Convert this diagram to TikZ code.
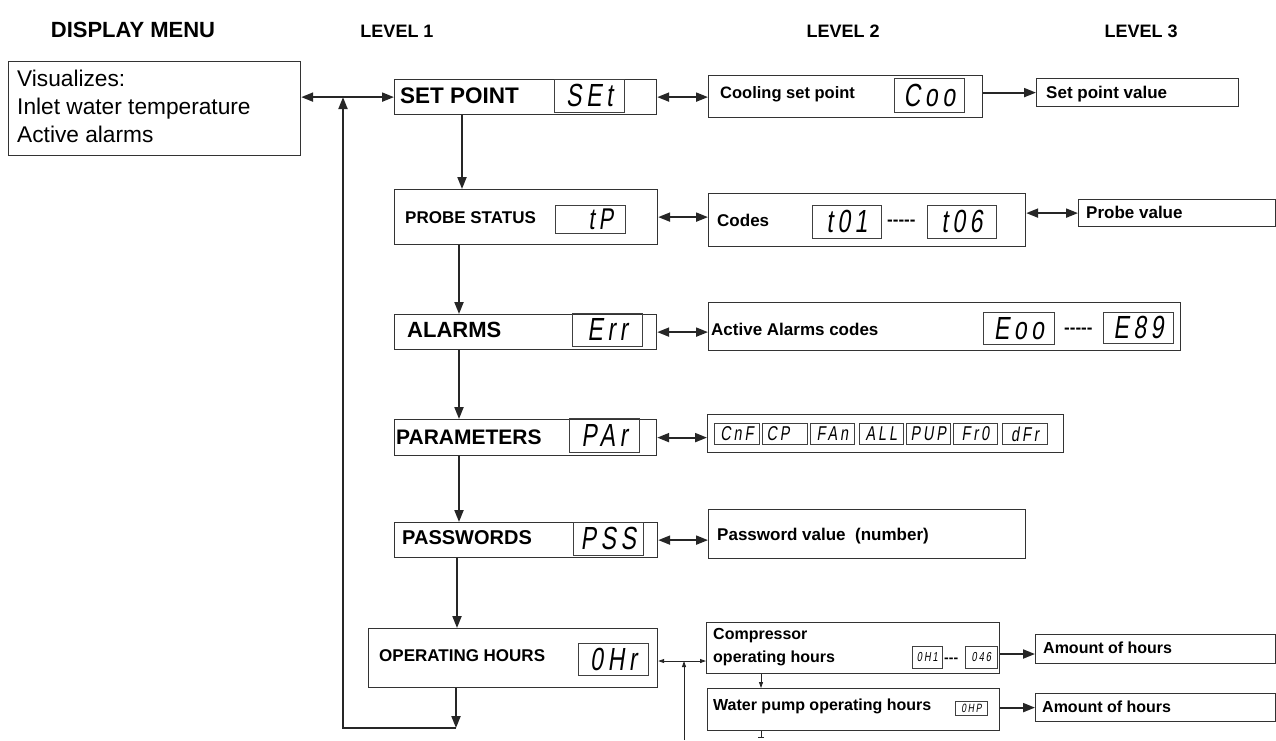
\documentclass[tikz,border=0pt]{standalone}
\usepackage{fontspec}
\setmainfont{Liberation Sans}
\newfontfamily\segfont[FakeSlant=0.2,LetterSpace=20]{Liberation Sans}
\usetikzlibrary{arrows.meta}
\newcommand{\sgtxt}[2]{\scalebox{0.72}[1]{\segfont\fontsize{#1}{#1}\selectfont #2}}
\newcommand{\fs}[1]{\fontsize{#1}{#1}\selectfont}
\newcommand{\hy}{-{}}
\begin{document}
\begin{tikzpicture}[x=1pt,y=-1pt,
  box/.style={draw=black!80, line width=1.2pt, inner sep=0pt, anchor=north west},
  dsp/.style={draw=black!75, line width=0.8pt, inner sep=0pt, anchor=north west},
  lbl/.style={anchor=base west, inner sep=0pt, font=\bfseries\fs{#1}},
  hdr/.style={anchor=base, inner sep=0pt, font=\bfseries\fs{18}},
  main/.style={line width=2pt, draw=black!85, >={Triangle[length=12pt,width=9pt]}},
  thinarr/.style={line width=0.8pt, draw=black!85, >={Triangle[length=6pt,width=4pt]}}
]
\fill[white] (0,0) rectangle (1276,740);
\useasboundingbox (0,0) rectangle (1276,740);

% headers
\node[hdr, font=\bfseries\fs{22}] (h0) at (133,37) {DISPLAY MENU};
\node[hdr] (h1) at (397,37) {LEVEL 1};
\node[hdr] (h2) at (843,37) {LEVEL 2};
\node[hdr] (h3) at (1141,37) {LEVEL 3};

% display menu box
\node[box, minimum width=292pt, minimum height=94pt] (disp) at (8,61) {};
\node[anchor=base west, inner sep=0pt, font=\fs{22.7}] (v1) at (17,86) {Visualizes:};
\node[anchor=base west, inner sep=0pt, font=\fs{22.7}] (v2) at (17,114) {Inlet water temperature};
\node[anchor=base west, inner sep=0pt, font=\fs{22.7}] (v3) at (17,142) {Active alarms};

% level 1 boxes
\node[box, minimum width=262pt, minimum height=35pt] (sp) at (394,79) {};
\node[box, minimum width=263pt, minimum height=55pt] (ps) at (394,189) {};
\node[box, minimum width=262pt, minimum height=35pt] (al) at (394,314) {};
\node[box, minimum width=262pt, minimum height=36pt] (pa) at (394,419) {};
\node[box, minimum width=263pt, minimum height=35pt] (pw) at (394,522) {};
\node[box, minimum width=289pt, minimum height=59pt] (oh) at (368,628) {};

\node[lbl=22.5] (tsp) at (400,103) {SET POINT};
\node[lbl=17] (tps) at (405,223) {PROBE STATUS};
\node[lbl=22] (tal) at (407,337) {ALARMS};
\node[lbl=21] (tpa) at (396,444) {PARAMETERS};
\node[lbl=20] (tpw) at (402,544) {PASSWORDS};
\node[lbl=17] (toh) at (379,661) {OPERATING HOURS};

\node[dsp, minimum width=70pt, minimum height=33pt] (dSEt) at (554,79) {\sgtxt{32}{SEt}};
\node[dsp, minimum width=70pt, minimum height=28pt] (dtP) at (555,205) {\sgtxt{30}{\ \ tP}};
\node[dsp, minimum width=70pt, minimum height=33pt] (dErr) at (572,313) {\sgtxt{32}{Err}};
\node[dsp, minimum width=70pt, minimum height=34pt] (dPAr) at (569,418) {\sgtxt{32}{PAr}};
\node[dsp, minimum width=70pt, minimum height=33pt] (dPSS) at (573,522) {\sgtxt{32}{PSS}};
\node[dsp, minimum width=70pt, minimum height=32pt] (dOHr) at (578,643) {\sgtxt{32}{0Hr}};

% level 2 boxes
\node[box, minimum width=274pt, minimum height=42pt] (cs) at (708,75) {};
\node[box, minimum width=317pt, minimum height=53pt] (co) at (708,193) {};
\node[box, minimum width=472pt, minimum height=48pt] (aa) at (708,302) {};
\node[box, minimum width=356pt, minimum height=38pt] (par) at (707,414) {};
\node[box, minimum width=317pt, minimum height=49pt] (pwv) at (708,509) {};
\node[box, minimum width=293pt, minimum height=51pt] (cp) at (706,622) {};
\node[box, minimum width=292pt, minimum height=42pt] (wp) at (707,688) {};

\node[lbl=16.5] (tcs) at (720,98) {Cooling set point};
\node[lbl=17] (tco) at (717,226) {Codes};
\node[lbl=17] (taa) at (711,335) {Active Alarms codes};
\node[lbl=17] (tpwv) at (717,540) {Password value\ \ (number)};
\node[lbl=16] (tcp1) at (713,639) {Compressor};
\node[lbl=16] (tcp2) at (713,662) {operating hours};
\node[lbl=16] (twp) at (713,710) {Water pump operating hours};

\node[dsp, minimum width=70pt, minimum height=34pt] (dCoo) at (894,78) {\sgtxt{32}{Coo}};
\node[dsp, minimum width=69pt, minimum height=33pt] (dt01) at (812,205) {\sgtxt{32}{t01}};
\node[lbl=17] (dash1) at (887,225) {\hy\hy\hy\hy\hy};
\node[dsp, minimum width=69pt, minimum height=33pt] (dt06) at (927,205) {\sgtxt{32}{t06}};
\node[dsp, minimum width=71pt, minimum height=32pt] (dE00) at (983,312) {\sgtxt{32}{Eoo}};
\node[lbl=17] (dash2) at (1064,333) {\hy\hy\hy\hy\hy};
\node[dsp, minimum width=70pt, minimum height=31pt] (dE89) at (1103,312) {\sgtxt{32}{E89}};

\node[dsp, minimum width=45pt, minimum height=21pt] (pr1) at (714,423) {\sgtxt{20}{CnF}};
\node[dsp, minimum width=45pt, minimum height=21pt] (pr2) at (762,423) {\sgtxt{20}{CP\ \ }};
\node[dsp, minimum width=44pt, minimum height=21pt] (pr3) at (810,423) {\sgtxt{20}{FAn}};
\node[dsp, minimum width=44pt, minimum height=21pt] (pr4) at (859,423) {\sgtxt{20}{ALL}};
\node[dsp, minimum width=44pt, minimum height=21pt] (pr5) at (906,423) {\sgtxt{20}{PUP}};
\node[dsp, minimum width=44pt, minimum height=21pt] (pr6) at (953,423) {\sgtxt{20}{Fr0}};
\node[dsp, minimum width=45pt, minimum height=21pt] (pr7) at (1002,423) {\sgtxt{20}{dFr}};

\node[dsp, minimum width=30pt, minimum height=22pt] (dOH1) at (912,646) {\sgtxt{13}{0H1}};
\node[lbl=14] (dash3) at (944,662) {\hy\hy\hy};
\node[dsp, minimum width=32pt, minimum height=22pt] (d046) at (965,646) {\sgtxt{13}{046}};
\node[dsp, minimum width=32pt, minimum height=14pt] (dOHP) at (955,701) {\sgtxt{12}{0HP}};

% level 3 boxes
\node[box, minimum width=202pt, minimum height=28pt] (spv) at (1036,78) {};
\node[box, minimum width=197pt, minimum height=27pt] (pv) at (1078,199) {};
\node[box, minimum width=240pt, minimum height=29pt] (ah1) at (1035,634) {};
\node[box, minimum width=240pt, minimum height=28pt] (ah2) at (1035,693) {};

\node[lbl=17] (tspv) at (1046,98) {Set point value};
\node[lbl=17] (tpv) at (1086,218) {Probe value};
\node[lbl=16] (tah1) at (1043,653) {Amount of hours};
\node[lbl=16] (tah2) at (1042,712) {Amount of hours};

% coordinates
\coordinate (xa) at (462,0);
\coordinate (xb) at (459,0);
\coordinate (xc) at (457,0);
\coordinate (loopR) at (456,728);
\coordinate (loopL) at (343,728);
\coordinate (ya1) at (0,654);
\coordinate (ya3) at (0,661);
\coordinate (jx) at (684,740);
\coordinate (xw) at (761,0);
\coordinate (wpend) at (761,738);

% level 1 chain
\draw[main,<->] (disp.east |- sp.west) -- (sp.west);
\draw[main,->] (sp.south -| xa) -- (ps.north -| xa);
\draw[main,->] (ps.south -| xb) -- (al.north -| xb);
\draw[main,->] (al.south -| xb) -- (pa.north -| xb);
\draw[main,->] (pa.south -| xb) -- (pw.north -| xb);
\draw[main,->] (pw.south -| xc) -- (oh.north -| xc);
\draw[main,->] (oh.south -| loopR) -- (loopR);
\draw[main,->] (loopR) -- (loopL) -- (loopL |- sp.west);

% level 1 <-> level 2
\draw[main,<->] (sp.east) -- (sp.east -| cs.west);
\draw[main,<->] (ps.east) -- (ps.east -| co.west);
\draw[main,<->] (al.east) -- (al.east -| aa.west);
\draw[main,<->] (pa.east) -- (pa.east -| par.west);
\draw[main,<->] (pw.east) -- (pw.east -| pwv.west);
\draw[thinarr,<->] (oh.east |- ya3) -- (cp.west |- ya3);
\draw[thinarr,->] (jx) -- (jx |- ya3);
\draw[thinarr,->] (cp.south -| xw) -- (wp.north -| xw);
\draw[thinarr,-{Bar[width=6pt]}] (wp.south -| xw) -- (wpend);

% level 2 -> level 3
\draw[main,->] (cs.east |- spv.west) -- (spv.west);
\draw[main,<->] (co.east |- pv.west) -- (pv.west);
\draw[main,->] (cp.east |- ya1) -- (ah1.west |- ya1);
\draw[main,->] (wp.east |- ah2.west) -- (ah2.west);
\end{tikzpicture}
\end{document}
